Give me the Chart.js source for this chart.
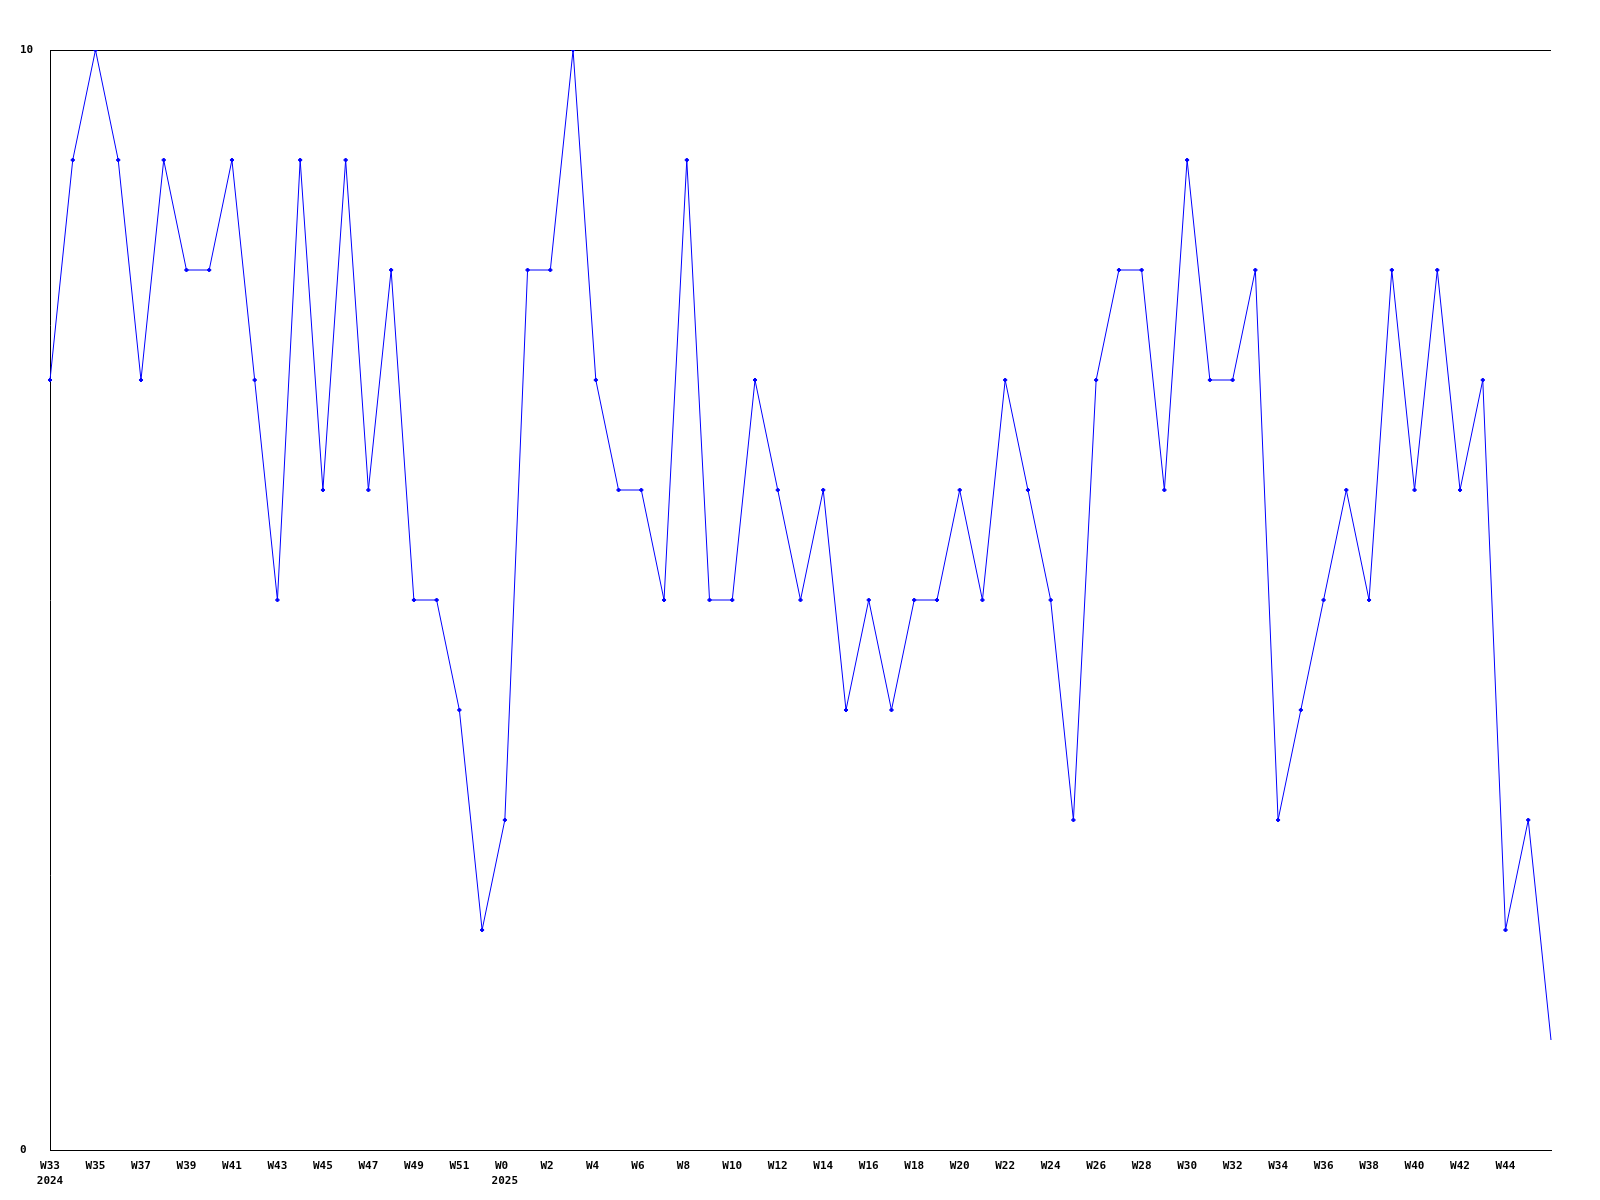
<!DOCTYPE html>
<html>
<head>
<meta charset="utf-8">
<title>Weekly chart</title>
<script src="https://cdn.jsdelivr.net/npm/chart.js@4.4.1/dist/chart.umd.min.js"></script>
<style>
    html, body { margin: 0; padding: 0; background: #ffffff; }
    #wrap { position: relative; width: 1600px; height: 1200px; }
</style>
</head>
<body>
<div id="wrap"><canvas id="weekly-chart"></canvas></div>
<script>
// --- DATOS ---
const weeks = [
    'W33', 'W34', 'W35', 'W36', 'W37', 'W38', 'W39', 'W40', 'W41', 'W42',
    'W43', 'W44', 'W45', 'W46', 'W47', 'W48', 'W49', 'W50', 'W51', 'W52',
    'W0', 'W1', 'W2', 'W3', 'W4', 'W5', 'W6', 'W7', 'W8', 'W9',
    'W10', 'W11', 'W12', 'W13', 'W14', 'W15', 'W16', 'W17', 'W18', 'W19',
    'W20', 'W21', 'W22', 'W23', 'W24', 'W25', 'W26', 'W27', 'W28', 'W29',
    'W30', 'W31', 'W32', 'W33', 'W34', 'W35', 'W36', 'W37', 'W38', 'W39',
    'W40', 'W41', 'W42', 'W43', 'W44', 'W45', 'W46'
];
// Año que aparece bajo la etiqueta (índice -> año)
const yearMarks = { 0: '2024', 20: '2025' };

const values = [
    7, 9, 10, 9, 7, 9, 8, 8, 9, 7,
    5, 9, 6, 9, 6, 8, 5, 5, 4, 2,
    3, 8, 8, 10, 7, 6, 6, 5, 9, 5,
    5, 7, 6, 5, 6, 4, 5, 4, 5, 5,
    6, 5, 7, 6, 5, 3, 7, 8, 8, 6,
    9, 7, 7, 8, 3, 4, 5, 6, 5, 8,
    6, 8, 6, 7, 2, 3, 1
];

const yTicks = [0, 10];

document.addEventListener('DOMContentLoaded', () => {
    const ctx = document.getElementById('weekly-chart');
    const tickFont = { family: 'DejaVu Sans Mono', size: 11, weight: 'bold', lineHeight: 1.4 };
    const lastIndex = values.length - 1;

    new Chart(ctx, {
        type: 'line',
        data: {
            labels: weeks,
            datasets: [{
                data: values,
                borderColor: '#0000ff',
                backgroundColor: '#0000ff',
                borderWidth: 1,
                tension: 0,
                fill: false,
                pointStyle: 'rectRot',
                // el último punto no lleva marcador
                pointRadius: (c) => (c.dataIndex === lastIndex ? 0 : 2),
                pointBorderWidth: 1
            }]
        },
        options: {
            responsive: true,
            maintainAspectRatio: false,
            animation: false,
            layout: { padding: { left: 20, top: 50, right: 49, bottom: 0 } },
            plugins: {
                legend: { display: false },
                tooltip: { enabled: false }
            },
            scales: {
                x: {
                    type: 'category',
                    offset: false,
                    grid: { display: false },
                    border: { display: true, color: '#000000', width: 1 },
                    ticks: {
                        autoSkip: false,
                        maxRotation: 0,
                        minRotation: 0,
                        padding: 0,
                        color: '#000000',
                        font: tickFont,
                        callback: function (value, index) {
                            if (index % 2 !== 0 || index === lastIndex) return '';
                            // relleno a 3 caracteres para alinear como el original
                            const label = weeks[index].padEnd(3, ' ');
                            return yearMarks[index] ? [label, yearMarks[index]] : label;
                        }
                    },
                    afterFit: (scale) => { scale.height = 50; }
                },
                y: {
                    min: 0,
                    max: 10,
                    grid: { display: true, color: '#000000', drawTicks: false, lineWidth: 1 },
                    border: { display: true, color: '#000000', width: 1 },
                    afterBuildTicks: (scale) => {
                        scale.ticks = yTicks.map(v => ({ value: v }));
                    },
                    ticks: {
                        crossAlign: 'far',
                        color: '#000000',
                        font: tickFont
                    },
                    afterFit: (scale) => { scale.width = 30; }
                }
            }
        }
    });
});
</script>
</body>
</html>
